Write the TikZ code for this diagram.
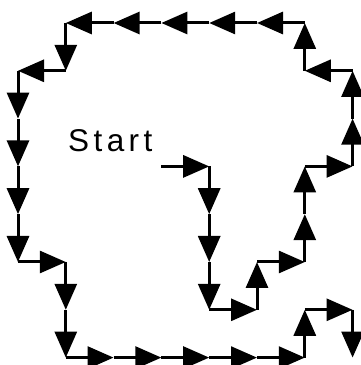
\documentclass[tikz,border=0pt]{standalone}
\usepackage{fontspec}
\newfontfamily\walkfont[LetterSpace=14]{Liberation Sans}
\usetikzlibrary{arrows.meta,positioning}

\begin{document}
\begin{tikzpicture}[
    x=1pt, y=1pt,
    move/.style={-{Triangle[length=26pt, width=22pt]}, line width=3pt},
    label text/.style={font=\walkfont\fontsize{31.5}{32}\selectfont, inner sep=0pt},
]
    \useasboundingbox (0,0) rectangle (361,365);
    % grid points, g<col><row>, row 0 at the top
    \foreach \c in {0,...,7}
        \foreach \r in {0,...,7}
            \coordinate (g\c\r) at ({18+47.8*\c},{342-47.8*\r});
    \node[label text, anchor=base west] (start) at (68,213) {Start};
    % the walk, one step per arrow
    \foreach \b [remember=\b as \a (initially 33)] in
        {43,44,45,46,56,55,65,64,63,73,72,71,61,60,50,40,30,20,10,11,01,
         02,03,04,05,15,16,17,27,37,47,57,67,66,76,77}
        \draw[move] (g\a) -- (g\b);
\end{tikzpicture}
\end{document}
